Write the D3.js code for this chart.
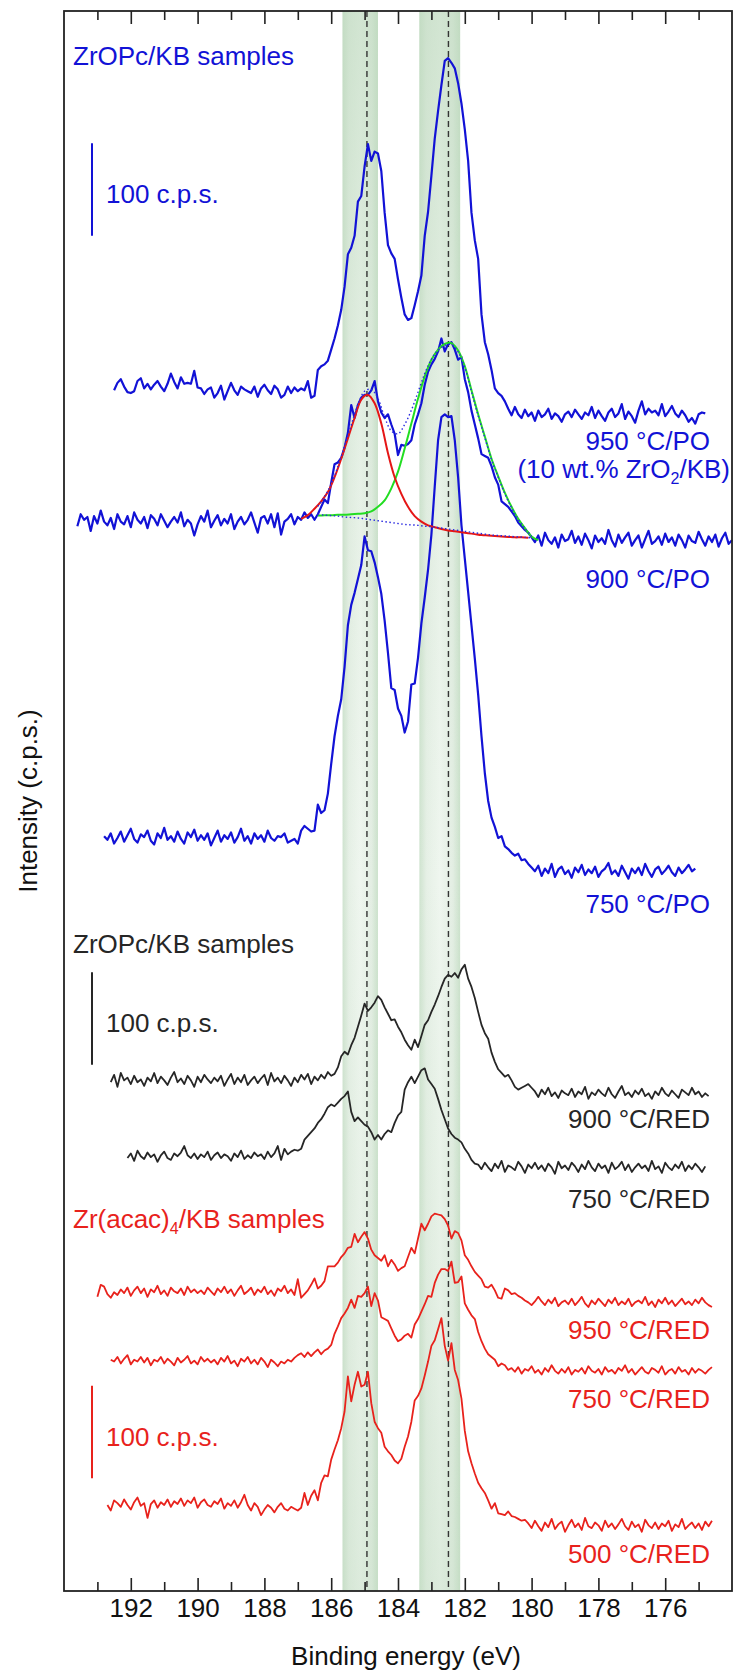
<!DOCTYPE html>
<html>
<head>
<meta charset="utf-8">
<script src="https://cdn.jsdelivr.net/npm/d3@7"></script>
<style>
body { margin: 0; background: #fff; }
text { font-family: "Liberation Sans", Arial, sans-serif; }
</style>
</head>
<body>
<script>
// Zr 3d XPS spectra, stacked. Each spectrum: values every 0.1 eV starting at startEnergy

var sampleLabels = ["950 °C/PO", "900 °C/PO", "750 °C/PO", "900 °C/RED", "750 °C/RED", "950 °C/RED", "750 °C/RED", "500 °C/RED"];
var sampleGroup = [0, 0, 0, 1, 1, 2, 2, 2]; // 0 ZrOPc/KB (PO), 1 ZrOPc/KB (RED), 2 Zr(acac)4/KB
var startEnergy = [192.5, 193.6, 192.8, 192.6, 192.1, 193.0, 192.6, 192.7];
var offsets = [1250, 1106, 764, 500, 418, 273, 198, 43]; // c.p.s. shift used to stack the curves
var stepEnergy = 0.1;

var po950 = [48,56,60,52,46,45,47,58,61,50, 55,49,54,58,52,47,55,66,57,50, 62,55,56,55,69,51,50,44,49,51,
  40,45,53,38,47,56,48,43,52,49, 47,45,52,41,50,54,48,44,53,49, 40,43,52,45,51,47,50,48,58,40, 42,
  70,74,76,80,92,104,118,135,160,195, 202,215,252,258,290,314,296,306,304,285, 240,205,196,190,168,148,130,124,126,140,
  155,172,215,241,280,320,350,378,404,407, 402,396,380,358,330,296,240,210,190,130, 100,87,70,50,45,42,36,28,21,30,
  22,18,27,20,24,15,26,19,22,28, 17,23,20,14,22,25,19,27,22,17, 24,21,30,18,26,20,15,24,28,19,
  23,33,17,25,20,13,26,36,22,28, 24,26,21,33,20,25,31,23,19,26, 21,14,18,12,22,24,23];

var po900 = [45,58,52,55,40,56,48,62,50,46, 54,42,58,50,47,56,44,60,52,48, 55,43,57,53,46,58,51,44,50,55,
  49,60,45,52,48,35,47,56,50,62, 44,51,57,46,53,48,58,42,50,55, 47,52,60,49,38,54,56,48,58,44, 59,36,50,53,58,47,55,52,60,54, 58,
  52,58,66,74,70,92,112,114,119,130, 146,176,162,176,184,187,187,192,202,180, 168,162,166,155,145,122,133,132,134,138,
  155,166,178,198,212,220,226,234,248,234, 242,244,236,225,228,204,190,170,155,140, 123,121,119,110,98,90,72,69,66,61, 56,49,45,41,38,33,
  28,35,24,38,30,26,33,22,36,29, 31,40,27,34,25,37,30,21,35,28, 32,26,41,30,23,36,27,33,38,24,
  30,35,22,31,40,26,29,34,25,37, 28,33,24,36,30,22,35,29,27,39, 31,24,34,28,36,23,32,38,26,30];

var po750 = [52,48,55,44,50,57,46,53,60,49, 45,54,51,58,47,43,55,50,61,48, 52,46,57,49,44,56,51,59,47,53,
  48,55,42,50,58,46,53,49,56,45, 51,60,47,52,44,55,49,53,46,58, 50,47,52,
  51,55,45,47,49,44,58,63,60,57, 58,86,77,80,98,130,160,182,200,235, 280,302,315,330,345,376,361,360,348,332,
  314,285,250,212,210,190,182,164,176,216, 217,245,282,310,340,378,430,480,505,508, 505,506,480,440,388,352,316,280,244,205,
  160,120,90,72,62,50,52,41,38,34, 31,33,26,27,22,18,
  14,20,9,17,12,22,8,16,19,11, 15,7,18,13,21,10,16,12,19,8, 14,17,23,11,15,9,20,13,6,17,
  12,18,10,22,14,8,16,19,11,15, 20,13,9,18,12,16,21,14,17];

var red900 = [50,58,45,60,52,55,48,57,50,53, 46,55,51,60,49,56,52,47,55,61, 50,54,48,57,52,45,56,50,58,53,
  49,55,51,57,46,53,59,48,55,50, 58,47,52,56,49,54,58,47,60,51, 55,49,57,52,46,55,50,58,53,59, 48,56,52,58,54,
  61,57,59,66,78,83,80,90,98,110, 122,135,127,131,136,143,139,131,124,117, 118,110,104,96,90,85,96,88,100,112,
  117,126,134,143,153,162,166,164,168,163, 172,177,162,153,141,126,112,103,97,82, 72,64,60,56,58,52,45,42,44,46, 48,44,
  40,34,42,37,44,35,39,33,41,38, 36,43,34,40,37,45,32,39,36,42, 38,35,44,37,33,40,46,36,39,34,
  41,37,43,35,38,32,40,36,44,38, 35,41,37,33,42,39,36,44,37,40, 34,38,35];

var red750 = [50,55,47,58,52,49,56,51,54,46, 53,57,50,48,55,52,56,63,53,50, 55,49,54,51,57,48,53,56,50,54,
  52,47,55,51,58,49,53,50,56,52, 54,49,57,51,55,63,48,60,54,57, 59,
  58,60,70,74,78,82,88,92,98,105, 108,106,110,114,117,122,100,90,94,90, 86,84,78,70,75,70,76,80,78,88,
  96,100,124,132,138,131,138,145,147,135, 130,125,114,102,92,82,76,72,70,67, 60,55,48,44,
  43,38,45,40,36,44,39,47,35,42, 40,37,46,41,34,43,39,45,38,42, 36,44,40,33,46,39,42,37,45,41,
  35,43,38,47,40,36,44,39,42,34, 45,38,41,46,37,43,35,40,44,39, 42,36,47,38,41,34,45,40,37,43, 39,46,36,42,38,44,40,35,41];

var acac950 = [45,58,56,48,44,50,47,53,49,55, 46,52,56,49,54,45,53,50,57,48, 52,46,55,51,49,54,47,56,50,53,
  49,52,48,55,51,47,54,50,56,49, 53,46,52,57,48,51,55,47,53,50, 56,48,52,46,54,51,57,49,53,47,
  64,44,48,52,58,65,54,57,62,78, 78,78,82,88,92,98,99,113,104,110, 115,108,96,90,87,84,90,78,85,80,
  73,76,78,88,98,92,108,124,117,124, 132,135,134,133,129,122,108,116,114,106, 90,85,78,72,68,64,56,55,58,52,
  44,43,54,52,48,49,46,44,41,39, 36,40,45,
  40,36,42,38,44,35,39,41,37,43, 36,40,45,38,34,41,37,43,39,35, 42,38,44,36,40,37,43,35,39,41,
  38,45,36,40,34,42,38,44,37,41, 35,39,43,37,40,36,42,38,44,39, 36,34];

var acac750 = [52,50,55,48,53,57,47,52,50,55, 49,54,46,52,50,55,48,53,50,46, 54,49,52,56,48,51,47,55,50,53,
  49,52,47,54,50,56,48,51,45,53, 50,55,48,52,47,54,50,44,52,49,
  45,50,48,52,50,54,57,59,55,60, 56,60,63,58,62,64,68,80,88,97, 102,108,117,108,121,120,124,131,110,124,
  116,98,96,94,86,78,72,74,78,80, 76,90,96,104,112,121,120,135,144,150, 150,148,158,135,136,142,113,106,100,96,
  82,72,64,58,55,52,45,48,46,41,
  43,39,44,37,42,40,45,38,41,36, 43,39,46,40,37,42,38,44,36,41, 39,43,37,45,40,38,42,36,44,39,
  41,37,43,40,46,38,42,36,40,44, 39,37,43,41,38,45,36,40,42,37, 44,39,41,36,43,38,42,40,37,41, 44];

var acac500 = [50,44,55,52,48,56,50,45,53,58, 49,52,36,51,55,47,53,50,56,48, 54,51,57,49,55,52,58,47,53,56,
  50,48,54,51,57,46,52,49,55,47, 53,61,50,44,52,48,39,45,50,47, 42,48,52,46,44,48,
  46,44,47,63,50,60,66,55,74,82, 81,99,110,120,133,151,189,162,180,194, 178,180,194,160,140,133,128,113,108,104,
  98,95,100,113,124,140,163,168,176,190, 205,222,228,240,252,222,206,225,196,185, 165,130,108,95,84,74,68,63,55,46,
  52,41,40,39,43,38,37,35,33,34,
  30,25,33,27,22,31,26,35,24,29, 32,21,28,34,26,30,23,36,27,25, 31,28,22,33,26,30,24,29,35,27,
  23,32,26,29,21,34,28,25,31,24, 30,27,33,22,29,26,35,24,28,31, 25,30,23,32,27,33];

var spectra = [po950, po900, po750, red900, red750, acac950, acac750, acac500];

// peak fit of the 900 °C/PO spectrum, values every 0.2 eV (same stacking offset)
var fitStep = 0.2;
var fitBgStart = 186.4;
var fitBackground = [58,57,56.5,56,55,54.5,54,53,52,51, 50,49,48,47,46.5,46,45,44.5,43.5,42.5,
  41.5,40.5,39.5,38.5,37.5,36.5,35.5,35,34.5,34, 33.5,33,32.5];
var fitRedStart = 186.9;
var fitRed = [53,57,64,72,82,98,118,140,162,182, 187,178,156,124,98,80,66,56,50,46,
  44,42,40.5,39.5,38.5,37.5,36.5,35.5,35,34.5, 34,33.5,33,33,32.5];
var fitGreenStart = 186.4;
var fitGreen = [56.5,57,57,57.5,57.5,58,58.5,59,61,66, 73,86,104,129,156,183,207,225,236,242,
  243,235,218,192,166,142,118,99,81,66, 53,43,34,30];
var fitSumStart = 186.4;
var fitSum = [66.5,77,90.5,109.5,131.5,154.5,176.5,191,193,183, 163,148,145,155,170.5,190,210,225.5,235.5,240.5,
  241.5,233.5,216.5,190.5,164.5,140.7,117,98,80,65, 52.5,42.8,34];

var bandRanges = [[185.66, 184.6], [183.36, 182.14]];
var refLines = [184.93, 182.49];
var tickValues = d3.range(175, 194);
var groupTitles = ["ZrOPc/KB samples", "ZrOPc/KB samples", "Zr(acac)"];

window.onload = function(){
    var w = 741, h = 1673;
    var colors = ["#1212d6", "#262626", "#e8221c"];
    var left = 64, right = 732, top = 11, bottom = 1591;

    var svg = d3.select("body").append("svg")
        .attr("width", w)
        .attr("height", h);

    var x = d3.scaleLinear().domain([194, 174]).range([left, right]);
    var y = d3.scaleLinear().domain([0, 1708]).range([bottom, top]);

    var defs = svg.append("defs");
    var gh = defs.append("linearGradient").attr("id", "bandH")
        .attr("x1", "0").attr("x2", "1").attr("y1", "0").attr("y2", "0");
    [["0%", "#cfe3cf"], ["18%", "#e6f0e6"], ["50%", "#eff6ef"], ["82%", "#e3eee3"], ["100%", "#cbe1cb"]]
        .forEach(function(s){ gh.append("stop").attr("offset", s[0]).attr("stop-color", s[1]); });
    var gv = defs.append("linearGradient").attr("id", "bandV")
        .attr("x1", "0").attr("x2", "0").attr("y1", "0").attr("y2", "1");
    [["0%", 0.55], ["30%", 0.15], ["55%", 0.0], ["85%", 0.2], ["100%", 0.35]]
        .forEach(function(s){ gv.append("stop").attr("offset", s[0]).attr("stop-color", "#b9d6b9").attr("stop-opacity", s[1]); });

    // shaded energy windows
    var bands = svg.append("g").attr("class", "bands");
    bands.selectAll(".bandH").data(bandRanges).enter().append("rect")
        .attr("x", function(d){ return x(d[0]); })
        .attr("width", function(d){ return x(d[1]) - x(d[0]); })
        .attr("y", top).attr("height", bottom - top)
        .style("fill", "url(#bandH)");
    bands.selectAll(".bandV").data(bandRanges).enter().append("rect")
        .attr("x", function(d){ return x(d[0]); })
        .attr("width", function(d){ return x(d[1]) - x(d[0]); })
        .attr("y", top).attr("height", bottom - top)
        .style("fill", "url(#bandV)");

    svg.selectAll(".refLine").data(refLines).enter().append("line")
        .attr("class", "refLine")
        .attr("x1", function(d){ return x(d); }).attr("x2", function(d){ return x(d); })
        .attr("y1", top).attr("y2", bottom)
        .style("stroke", "#333").style("stroke-width", 1.4).style("stroke-dasharray", "6,4");

    // spectra
    var line = function(e0, step, off){
        return d3.line()
            .x(function(d, i){ return x(e0 - step * i); })
            .y(function(d){ return y(off + d); });
    };

    svg.selectAll(".spectrum").data(spectra).enter().append("path")
        .attr("class", "spectrum")
        .attr("d", function(d, i){ return line(startEnergy[i], stepEnergy, offsets[i])(d); })
        .style("fill", "none")
        .style("stroke", function(d, i){ return colors[sampleGroup[i]]; })
        .style("stroke-width", function(d, i){ return sampleGroup[i] === 0 ? 2.2 : 1.8; })
        .style("stroke-linejoin", "round");

    // fit components on the 900 °C/PO spectrum
    var fitOff = offsets[1];
    var smooth = function(e0){
        return line(e0, fitStep, fitOff).curve(d3.curveCatmullRom);
    };
    svg.append("path").attr("d", smooth(fitGreenStart)(fitGreen))
        .style("fill", "none").style("stroke", "#22dd22").style("stroke-width", 2);
    svg.append("path").attr("d", smooth(fitRedStart)(fitRed))
        .style("fill", "none").style("stroke", "#e51616").style("stroke-width", 2);
    svg.append("path").attr("d", smooth(fitSumStart)(fitSum))
        .style("fill", "none").style("stroke", "#2a2ae0").style("stroke-width", 1.4).style("stroke-dasharray", "1.5,2.5");
    svg.append("path").attr("d", smooth(fitBgStart)(fitBackground))
        .style("fill", "none").style("stroke", "#2a2ae0").style("stroke-width", 1.4).style("stroke-dasharray", "1.5,2.5");

    // axes and frame
    var xAxis = d3.axisBottom(x).tickValues(tickValues).tickSizeInner(-13).tickSizeOuter(0).tickPadding(8)
        .tickFormat(function(d){ return d % 2 === 0 ? d : ""; });
    var gx = svg.append("g").attr("transform", "translate(0," + bottom + ")").call(xAxis);
    gx.select(".domain").remove();
    gx.selectAll(".tick line").attr("y2", function(d){ return d % 2 === 0 ? -13 : -9; })
        .style("stroke", "#222").style("stroke-width", 1.6);
    gx.selectAll(".tick text").style("font-size", "26px").style("fill", "#111")
        .style("font-family", "'Liberation Sans', Arial, sans-serif");

    var xTop = d3.axisTop(x).tickValues(tickValues).tickSizeInner(-13).tickSizeOuter(0).tickFormat("");
    var gt = svg.append("g").attr("transform", "translate(0," + top + ")").call(xTop);
    gt.select(".domain").remove();
    gt.selectAll(".tick line").attr("y2", function(d){ return d % 2 === 0 ? 13 : 9; })
        .style("stroke", "#222").style("stroke-width", 1.6);

    svg.append("rect")
        .attr("x", left).attr("y", top)
        .attr("width", right - left).attr("height", bottom - top)
        .style("fill", "none").style("stroke", "#222").style("stroke-width", 1.8);

    svg.append("text")
        .attr("x", (left + right) / 2 + 8).attr("y", 1665)
        .attr("text-anchor", "middle").style("font-size", "26px").style("fill", "#111")
        .text("Binding energy (eV)");

    svg.append("text")
        .attr("transform", "translate(37,801) rotate(-90)")
        .attr("text-anchor", "middle").style("font-size", "26px").style("fill", "#111")
        .text("Intensity (c.p.s.)");

    // sample labels under the right end of each curve
    var labelGap = [37, 48, 43, 34, 41, 36, 37, 38];
    var tail = function(d){ return d3.mean(d.slice(-20)); };
    svg.selectAll(".labels").data(spectra).enter().append("text")
        .attr("class", "labels")
        .attr("x", 710)
        .attr("y", function(d, i){ return y(offsets[i] + tail(d)) + labelGap[i]; })
        .attr("text-anchor", "end")
        .style("font-size", "26px")
        .style("fill", function(d, i){ return colors[sampleGroup[i]]; })
        .text(function(d, i){ return sampleLabels[i]; });

    var ref = svg.append("text")
        .attr("x", 730).attr("y", y(offsets[0] + tail(po950)) + 65)
        .attr("text-anchor", "end").style("font-size", "26px").style("fill", colors[0]);
    ref.append("tspan").text("(10 wt.% ZrO");
    ref.append("tspan").attr("dy", 6).style("font-size", "16px").text("2");
    ref.append("tspan").attr("dy", -6).text("/KB)");

    // group titles and 100 c.p.s. scale bars
    var titleY = [65, 953, 1228];
    var barBottom = [1465, 569, 122];
    var barY = [203, 1032, 1446];
    titleY.forEach(function(ty, g){
        var t = svg.append("text").attr("x", 73).attr("y", ty)
            .style("font-size", "26px").style("fill", colors[g]);
        t.append("tspan").text(groupTitles[g]);
        if (g === 2) {
            t.append("tspan").attr("dy", 6).style("font-size", "16px").text("4");
            t.append("tspan").attr("dy", -6).text("/KB samples");
        }
        svg.append("line")
            .attr("x1", 92).attr("x2", 92)
            .attr("y1", y(barBottom[g])).attr("y2", y(barBottom[g] + 100))
            .style("stroke", colors[g]).style("stroke-width", 2);
        svg.append("text").attr("x", 106).attr("y", barY[g])
            .style("font-size", "26px").style("fill", colors[g])
            .text("100 c.p.s.");
    });
};
</script>
</body>
</html>
